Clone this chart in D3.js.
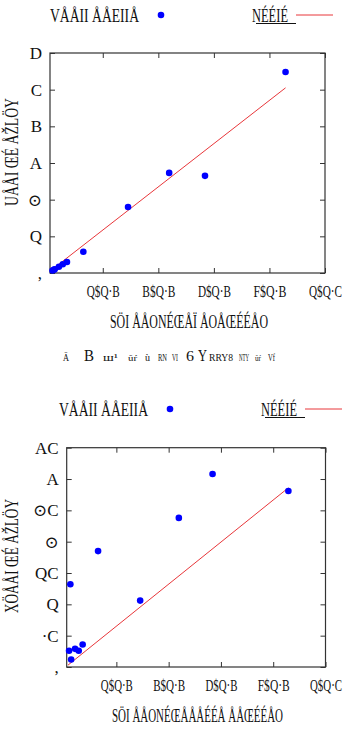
<!DOCTYPE html>
<html>
<head>
<meta charset="utf-8">
<script src="https://cdn.jsdelivr.net/npm/d3@7"></script>
<style>
  body { margin: 0; background: #fff; }
  text { font-family: 'Liberation Serif', 'DejaVu Serif', serif; fill: #111; }
</style>
</head>
<body>
<div class="holder"></div>
<script>
// values
const xValues = [1900, 2400, 2700, 4200, 5600, 7100, 13000, 29100, 43900, 56800, 85800];
const yTopValues = [0.07, 0.09, 0.10, 0.17, 0.24, 0.30, 0.58, 1.80, 2.73, 2.65, 5.48];
const yBottomValues = [0.26, 1.32, 0.12, 0.29, 0.26, 0.36, 1.85, 1.06, 2.38, 3.08, 2.81];
const fitX = [1500, 85800];
const fitTop = [0.08, 5.05];
const fitBottom = [0.03, 2.86];

const xTicks = [20000, 40000, 60000, 80000, 100000];
const xTickLabels = ['Q$Q·B', 'B$Q·B', 'D$Q·B', 'F$Q·B', 'Q$Q·C'];
const yTopTicks = [0, 1, 2, 3, 4, 5, 6];
const yTopTickLabels = [',', 'Q', '⊙', 'A', 'B', 'C', 'D'];
const yBottomTicks = [0, 0.5, 1, 1.5, 2, 2.5, 3, 3.5];
const yBottomTickLabels = [',', '·C', 'Q', 'QC', '⊙', '⊙C', 'A', 'AC'];

const legendPoints = 'VÅÅII ÅÅEIIÅ';
const legendLine = 'NÉÉIÉ';
const xTitleTop = 'SÖI  ÅÅONÉŒÅÏ ÅOÅŒÉÉÅO';
const xTitleBottom = 'SÖI  ÅÅONÉŒÅÅÅÉÉÅ ÅÅŒÉÉÅO';
const yTitleTop = 'UÅÅI ŒÉ ÅŽLÖY';
const yTitleBottom = 'XÖÅÅI ŒÉ ÅŽLÖY';
// caption pieces: text, x, font size, width
const caption = [['Ä', 63, 10, 6], ['B', 84, 17, 10], ['ш¹', 103, 10, 15], ['ŭŕ', 128, 9, 9],
  ['ù', 145, 10, 5], ['RN', 158, 10, 9], ['VI', 172, 10, 6], ['6', 186, 14, 8], ['Y', 198, 17, 9],
  ['RRY8', 209, 11, 24], ['NTY', 239, 10, 10], ['ŭŕ', 255, 9, 6], ['Vf', 268, 10, 7]];

const blue = '#0000ff';
const red = '#e8363a';
const frame = '#333';

const svg = d3
  .select('.holder')
  .append('svg')
  .attr('width', 344)
  .attr('height', 740);

// squeeze a text node to a given width
const fit = (sel, w) => sel.attr('textLength', w).attr('lengthAdjust', 'spacingAndGlyphs');

const panel = (p) => {
  const xScale = d3.scaleLinear().domain([1000, 100000]).range([p.left, p.right]);
  const yScale = d3.scaleLinear().domain(p.yDomain).range([p.bottom, p.top]);

  // legend
  fit(svg.append('text').attr('x', p.legendX).attr('y', p.legendY + 7)
    .style('font-size', '18px').text(legendPoints), 89);
  svg.append('circle').attr('cx', p.legendX + 111).attr('cy', p.legendY)
    .attr('r', 3.3).style('fill', blue);
  fit(svg.append('text').attr('x', p.legendX + 202).attr('y', p.legendY + 7)
    .style('font-size', '18px').text(legendLine), 36);
  svg.append('line')
    .attr('x1', p.legendX + 206).attr('x2', p.legendX + 246)
    .attr('y1', p.legendY + 8.5).attr('y2', p.legendY + 8.5)
    .style('stroke', '#111').style('stroke-width', 1);
  svg.append('line')
    .attr('x1', p.legendX + 246).attr('x2', p.legendX + 283)
    .attr('y1', p.legendY).attr('y2', p.legendY)
    .style('stroke', red).style('stroke-width', 1);

  const xAxis = d3.axisBottom(xScale).tickValues(xTicks)
    .tickFormat((d, i) => xTickLabels[i]).tickSizeInner(-5).tickSizeOuter(0).tickPadding(12);
  const xAxisTop = d3.axisTop(xScale).tickValues(xTicks)
    .tickFormat('').tickSizeInner(-5).tickSizeOuter(0);
  const yAxis = d3.axisLeft(yScale).tickValues(p.yTicks)
    .tickFormat((d, i) => p.yLabels[i]).tickSizeInner(-5).tickSizeOuter(0).tickPadding(8);
  const yAxisRight = d3.axisRight(yScale).tickValues(p.yTicks)
    .tickFormat('').tickSizeInner(-5).tickSizeOuter(0);

  const gx = svg.append('g').attr('transform', `translate(0, ${p.bottom})`).call(xAxis);
  gx.selectAll('text').style('font-size', '17px').each(function () {
    fit(d3.select(this), p.xLabelW);
  });
  svg.append('g').attr('transform', `translate(0, ${p.top})`).call(xAxisTop);
  const gy = svg.append('g').attr('transform', `translate(${p.left}, 0)`).call(yAxis);
  gy.selectAll('text').style('font-size', '17px');
  svg.append('g').attr('transform', `translate(${p.right}, 0)`).call(yAxisRight);

  svg.selectAll('.domain').remove();
  svg.selectAll('.tick line').style('stroke', frame);
  svg.selectAll('.tick text').attr('font-family', null).style('fill', '#111');

  svg.append('rect')
    .attr('x', p.left).attr('y', p.top)
    .attr('width', p.right - p.left).attr('height', p.bottom - p.top)
    .style('fill', 'none').style('stroke', frame).style('stroke-width', 1.2);

  // fitted line
  svg.append('line')
    .attr('x1', xScale(fitX[0])).attr('y1', yScale(p.fit[0]))
    .attr('x2', xScale(fitX[1])).attr('y2', yScale(p.fit[1]))
    .style('stroke', red).style('stroke-width', 1);

  svg.append('g')
    .selectAll('circle')
    .data(p.values)
    .enter()
    .append('circle')
    .attr('cx', (d, i) => xScale(xValues[i]))
    .attr('cy', (d) => yScale(d))
    .attr('r', 3.3)
    .style('fill', blue);

  // axis titles
  fit(svg.append('text').attr('x', p.xTitleX).attr('y', p.bottom + 55)
    .style('font-size', '18px').text(p.xTitle), p.xTitleW);
  fit(svg.append('text')
    .attr('transform', `translate(18, ${p.yTitleY}) rotate(-90)`)
    .attr('text-anchor', 'middle')
    .style('font-size', '18px').text(p.yTitle), p.yTitleW);
};

panel({
  left: 50, right: 325, top: 53, bottom: 273,
  yDomain: [0, 6], yTicks: yTopTicks, yLabels: yTopTickLabels,
  values: yTopValues, fit: fitTop,
  legendX: 50, legendY: 15,
  xLabelW: 33, xTitle: xTitleTop, xTitleX: 110, xTitleW: 158,
  yTitle: yTitleTop, yTitleY: 152, yTitleW: 108
});

panel({
  left: 66.7, right: 325.5, top: 447.7, bottom: 667,
  yDomain: [0, 3.5], yTicks: yBottomTicks, yLabels: yBottomTickLabels,
  values: yBottomValues, fit: fitBottom,
  legendX: 59, legendY: 409,
  xLabelW: 32, xTitle: xTitleBottom, xTitleX: 112, xTitleW: 171,
  yTitle: yTitleBottom, yTitleY: 556, yTitleW: 114
});

// caption between the panels
svg.append('g')
  .selectAll('text')
  .data(caption)
  .enter()
  .append('text')
  .attr('x', (d) => d[1])
  .attr('y', 361)
  .attr('textLength', (d) => d[3])
  .attr('lengthAdjust', 'spacingAndGlyphs')
  .style('font-size', (d) => d[2] + 'px')
  .text((d) => d[0]);
</script>
</body>
</html>
